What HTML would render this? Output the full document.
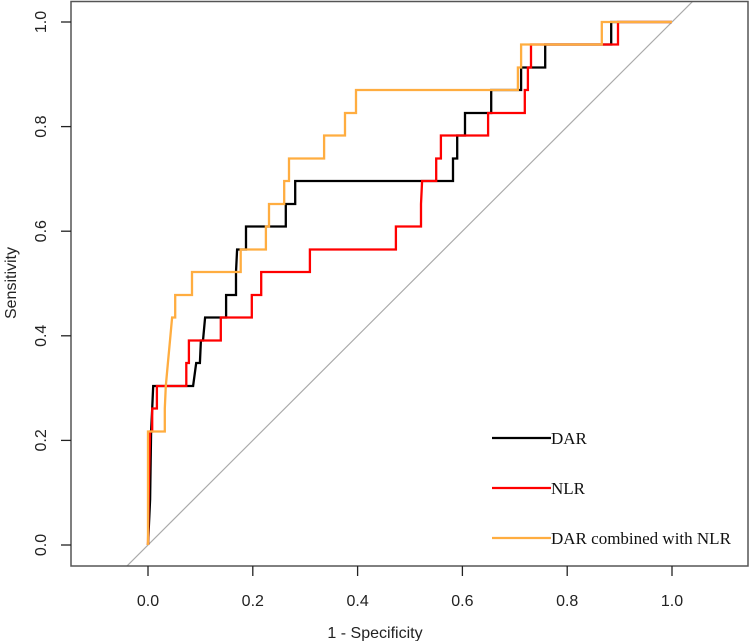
<!DOCTYPE html>
<html><head><meta charset="utf-8"><style>
html,body{margin:0;padding:0;background:#fff;}
svg{display:block;}
</style></head><body>
<svg id="chart" width="750" height="641" viewBox="0 0 750 641" font-family="Liberation Sans, sans-serif">
<defs><clipPath id="plotclip"><rect x="71" y="1.5" width="677" height="564.5"/></clipPath></defs>
<g id="plot" clip-path="url(#plotclip)"></g>
<rect x="71" y="1.5" width="677" height="564.5" fill="none" stroke="#555" stroke-width="1.5"/>
<g id="axes"></g>
<text x="375" y="638" text-anchor="middle" font-size="16" fill="#222">1 - Specificity</text>
<text transform="translate(16,283) rotate(-90)" text-anchor="middle" font-size="16" fill="#222">Sensitivity</text>
<g id="legend"></g>
</svg>
<script>
const xTicks = [0.0, 0.2, 0.4, 0.6, 0.8, 1.0];
const yTicks = [0.0, 0.2, 0.4, 0.6, 0.8, 1.0];
const seriesNames = ["DAR", "NLR", "DAR combined with NLR"];
const seriesColors = ["#000000", "#ff0000", "#ffad40"];
const darFpr = [0,0.004,0.006,0.008,0.010,0.086,0.092,0.099,0.101,0.105,0.109,0.149,0.149,0.168,0.168,0.170,0.187,0.187,0.263,0.263,0.281,0.281,0.582,0.582,0.590,0.590,0.605,0.605,0.655,0.655,0.712,0.712,0.758,0.758,0.884,0.884,1];
const darTpr = [0,0.087,0.217,0.261,0.304,0.304,0.348,0.348,0.391,0.391,0.435,0.435,0.478,0.478,0.522,0.565,0.565,0.609,0.609,0.652,0.652,0.696,0.696,0.739,0.739,0.783,0.783,0.826,0.826,0.870,0.870,0.913,0.913,0.957,0.957,1,1];
const nlrFpr = [0,0.002,0.004,0.008,0.008,0.017,0.017,0.073,0.073,0.078,0.078,0.139,0.139,0.198,0.198,0.216,0.216,0.309,0.309,0.473,0.473,0.521,0.521,0.523,0.550,0.550,0.559,0.559,0.649,0.649,0.719,0.719,0.725,0.725,0.731,0.731,0.897,0.897,1];
const nlrTpr = [0,0.130,0.217,0.217,0.261,0.261,0.304,0.304,0.348,0.348,0.391,0.391,0.435,0.435,0.478,0.478,0.522,0.522,0.565,0.565,0.609,0.609,0.652,0.696,0.696,0.739,0.739,0.783,0.783,0.826,0.826,0.870,0.870,0.913,0.913,0.957,0.957,1,1];
const combFpr = [0,0,0.032,0.032,0.034,0.038,0.042,0.046,0.052,0.052,0.084,0.084,0.177,0.177,0.225,0.225,0.231,0.231,0.260,0.260,0.269,0.269,0.336,0.336,0.376,0.376,0.397,0.397,0.706,0.706,0.712,0.712,0.866,0.866,1];
const combTpr = [0,0.217,0.217,0.261,0.304,0.348,0.391,0.435,0.435,0.478,0.478,0.522,0.522,0.565,0.565,0.609,0.609,0.652,0.652,0.696,0.696,0.739,0.739,0.783,0.783,0.826,0.826,0.870,0.870,0.913,0.913,0.957,0.957,1,1];

const NS = "http://www.w3.org/2000/svg";
const sx = v => 148 + v * 524;
const sy = v => 545 - v * 523;
const plot = document.getElementById('plot');
const axes = document.getElementById('axes');
const legend = document.getElementById('legend');

// diagonal reference
const diag = document.createElementNS(NS, 'line');
diag.setAttribute('x1', sx(-0.3)); diag.setAttribute('y1', sy(-0.3));
diag.setAttribute('x2', sx(1.3)); diag.setAttribute('y2', sy(1.3));
diag.setAttribute('stroke', '#aaaaaa'); diag.setAttribute('stroke-width', '1.2');


plot.appendChild(diag);

function drawCurve(fpr, tpr, color, name) {
  const p = document.createElementNS(NS, 'polyline');
  p.setAttribute('points', fpr.map((f, i) => sx(f).toFixed(1) + ',' + sy(tpr[i]).toFixed(1)).join(' '));
  p.setAttribute('fill', 'none'); p.setAttribute('stroke', color); p.setAttribute('stroke-width', '2.3');
  
  
  plot.appendChild(p);
}
drawCurve(darFpr, darTpr, seriesColors[0], 'dar-roc-curve');
drawCurve(nlrFpr, nlrTpr, seriesColors[1], 'nlr-roc-curve');
drawCurve(combFpr, combTpr, seriesColors[2], 'combined-roc-curve');

xTicks.forEach(t => {
  const l = document.createElementNS(NS, 'line');
  l.setAttribute('x1', sx(t)); l.setAttribute('x2', sx(t)); l.setAttribute('y1', 566); l.setAttribute('y2', 576);
  l.setAttribute('stroke', '#222'); l.setAttribute('stroke-width', '1.3');
  
  
  axes.appendChild(l);
  const tx = document.createElementNS(NS, 'text');
  tx.setAttribute('x', sx(t)); tx.setAttribute('y', 606); tx.setAttribute('text-anchor', 'middle');
  tx.setAttribute('font-size', '16'); tx.setAttribute('fill', '#222');
  tx.textContent = t.toFixed(1);
  
  
  axes.appendChild(tx);
});
yTicks.forEach(t => {
  const l = document.createElementNS(NS, 'line');
  l.setAttribute('x1', 61); l.setAttribute('x2', 71); l.setAttribute('y1', sy(t)); l.setAttribute('y2', sy(t));
  l.setAttribute('stroke', '#222'); l.setAttribute('stroke-width', '1.3');
  
  
  axes.appendChild(l);
  const tx = document.createElementNS(NS, 'text');
  tx.setAttribute('transform', 'translate(46,' + sy(t) + ') rotate(-90)');
  tx.setAttribute('text-anchor', 'middle'); tx.setAttribute('font-size', '16'); tx.setAttribute('fill', '#222');
  tx.textContent = t.toFixed(1);
  
  
  axes.appendChild(tx);
});

const legendY = [438, 488, 538];
seriesNames.forEach((n, i) => {
  const l = document.createElementNS(NS, 'line');
  l.setAttribute('x1', 492); l.setAttribute('x2', 551); l.setAttribute('y1', legendY[i]); l.setAttribute('y2', legendY[i]);
  l.setAttribute('stroke', seriesColors[i]); l.setAttribute('stroke-width', '2.3');
  
  
  legend.appendChild(l);
  const tx = document.createElementNS(NS, 'text');
  tx.setAttribute('x', 551); tx.setAttribute('y', legendY[i] + 6);
  tx.setAttribute('font-family', 'Liberation Serif, serif'); tx.setAttribute('font-size', '17'); tx.setAttribute('fill', '#111');
  tx.textContent = n;
  
  
  legend.appendChild(tx);
});
</script>
</body></html>
